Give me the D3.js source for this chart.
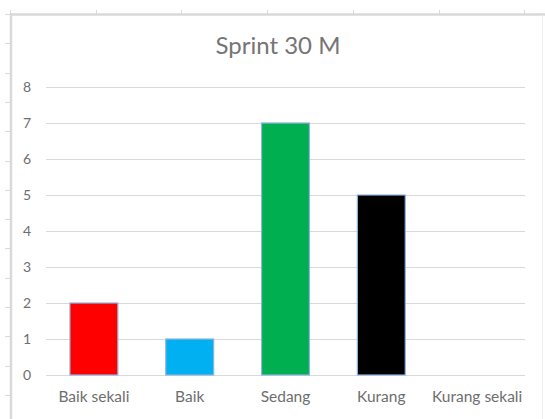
<!DOCTYPE html>
<html>
<head>
<meta charset="utf-8">
<script src="https://cdn.jsdelivr.net/npm/d3@7"></script>
<style>
  html, body { margin: 0; padding: 0; background: #fff; }
  svg { display: block; }
  text { font-family: Lato, "Open Sans", sans-serif; }
</style>
</head>
<body>
<div id="chart"></div>
<script>
// Sprint 30 M — number of participants per rating category
const categories = ["Baik sekali", "Baik", "Sedang", "Kurang", "Kurang sekali"];
const values = [2, 1, 7, 5, 0];
const yTicks = [0, 1, 2, 3, 4, 5, 6, 7, 8];
const title = "Sprint 30 M";

const barColors = ["#ff0000", "#00b0f0", "#00b050", "#000000", "#7f7f7f"];

const W = 545, H = 419;
const svg = d3.select("#chart").append("svg")
  .attr("width", W).attr("height", H);

svg.append("rect").attr("width", W).attr("height", H).attr("fill", "#fff");

// worksheet cell borders peeking out around the chart object
const sheet = svg.append("g").attr("stroke", "#d9d9d9").attr("stroke-width", 1);
const colW = 85.7, rowH = 29.3;
for (let i = 0; i < 7; i++) {
  const x = Math.round(10 + i * colW) + 0.5;
  sheet.append("line").attr("x1", x).attr("x2", x).attr("y1", 10).attr("y2", 14);
}
for (let j = 0; j < 14; j++) {
  const y = Math.round(14 + j * rowH) + 0.5;
  sheet.append("line").attr("x1", 5).attr("x2", 10).attr("y1", y).attr("y2", y);
}

// chart object frame
svg.append("line").attr("x1", 11).attr("x2", 11).attr("y1", 13).attr("y2", H)
  .attr("stroke", "#d9d9d9").attr("stroke-width", 2.5);
svg.append("line").attr("x1", 10).attr("x2", W).attr("y1", 14.5).attr("y2", 14.5)
  .attr("stroke", "#d9d9d9").attr("stroke-width", 2.5);
svg.append("line").attr("x1", 542.5).attr("x2", 542.5).attr("y1", 15).attr("y2", H)
  .attr("stroke", "#eeeeee").attr("stroke-width", 1);

// title
svg.append("text")
  .attr("x", 278).attr("y", 54)
  .attr("text-anchor", "middle")
  .attr("font-size", 24)
  .attr("fill", "#757575")
  .text(title);

// scales
const x = d3.scaleBand()
  .domain(categories)
  .range([46, 525])
  .paddingInner(0.5)
  .paddingOuter(0.25);

const y = d3.scaleLinear()
  .domain([0, 8])
  .range([375, 87]);

// horizontal gridlines
svg.append("g")
  .selectAll("line")
  .data(yTicks)
  .join("line")
  .attr("x1", 46).attr("x2", 525)
  .attr("y1", d => Math.round(y(d)) + 0.5)
  .attr("y2", d => Math.round(y(d)) + 0.5)
  .attr("stroke", "#d9d9d9")
  .attr("stroke-width", 1);

// y axis labels
const yAxis = d3.axisLeft(y).tickValues(yTicks).tickSize(0).tickPadding(0);
const gy = svg.append("g").attr("transform", "translate(31,0)").call(yAxis);
gy.select(".domain").remove();
gy.selectAll("text")
  .attr("font-family", "Lato, 'Open Sans', sans-serif")
  .attr("font-size", 14)
  .attr("fill", "#6e6e6e");

// bars
svg.append("g")
  .selectAll("rect")
  .data(categories.map((c, i) => ({ c, v: values[i], i })))
  .join("rect")
  .attr("x", d => x(d.c))
  .attr("y", d => y(d.v))
  .attr("width", x.bandwidth())
  .attr("height", d => y(0) - y(d.v))
  .attr("fill", d => barColors[d.i])
  .attr("stroke", d => d.v > 0 ? "#8eb4e3" : "none")
  .attr("stroke-width", 1.2);

// x axis category labels
const xAxis = d3.axisBottom(x).tickSize(0).tickPadding(0);
const gx = svg.append("g").attr("transform", "translate(0,391)").call(xAxis);
gx.select(".domain").remove();
gx.selectAll("text")
  .attr("font-family", "Lato, 'Open Sans', sans-serif")
  .attr("font-size", 15.5)
  .attr("fill", "#6e6e6e");
</script>
</body>
</html>
